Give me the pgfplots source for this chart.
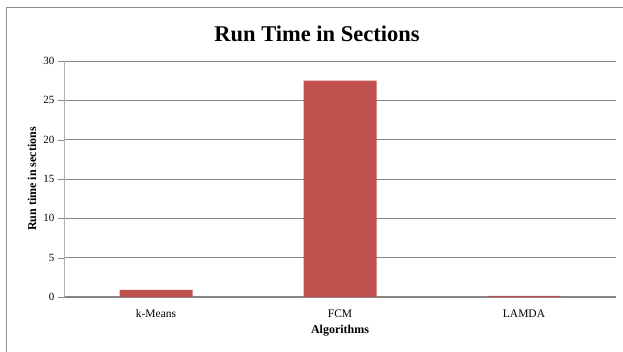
\documentclass[border=0pt]{standalone}
\usepackage{pgfplots}
\pgfplotsset{compat=1.18}
\usepackage{fontspec}
\setmainfont{Liberation Serif}
\definecolor{barred}{HTML}{C0504D}
\definecolor{gridgray}{RGB}{134,134,134}
\definecolor{framegray}{RGB}{140,140,140}
\begin{document}
\begin{tikzpicture}[x=1pt,y=1pt]
\useasboundingbox (0,0) rectangle (623,352);
\draw[framegray, line width=1pt] (6,0) -- (6,344) -- (623,344);
\begin{axis}[
  at={(64pt,55pt)}, anchor=south west,
  scale only axis, width=552pt, height=236pt,
  xmin=-0.5, xmax=2.5, ymin=0, ymax=30,
  ytick={0,5,...,30},
  xtick={0,1,2}, xticklabels={k-Means,FCM,LAMDA},
  major x tick style={draw=none},
  ytick style={gridgray},
  tick align=outside, major tick length=6pt,
  ymajorgrids, grid style={gridgray, line width=0.8pt},
  axis x line*=bottom, axis y line*=left,
  x axis line style={gridgray, line width=1pt, -},
  y axis line style={gray!60, line width=0.8pt, -},
  yticklabel style={font=\fontsize{11}{12}\selectfont},
  xticklabel style={font=\fontsize{11.5}{12}\selectfont, yshift=-3pt},
  /pgf/number format/assume math mode=true,
  xlabel={\textbf{Algorithms}},
  xlabel style={font=\fontsize{12}{12}\selectfont, at={(axis description cs:0.5,0)}, anchor=center, yshift=-34pt},
  ylabel={\textbf{Run time in sections}},
  ylabel style={font=\fontsize{12}{12}\selectfont, at={(axis description cs:0,0.5)}, anchor=center, yshift=32pt},
  title={\textbf{Run Time in Sections}},
  title style={font=\fontsize{22.5}{24}\selectfont, at={(axis description cs:0.5,1)}, anchor=center, yshift=21pt, xshift=-23pt},
  bar width=73pt,
]
\addplot[ybar, fill=barred, draw=none] coordinates {(0,0.9) (1,27.5) (2,0.15)};
\end{axis}
\end{tikzpicture}
\end{document}
